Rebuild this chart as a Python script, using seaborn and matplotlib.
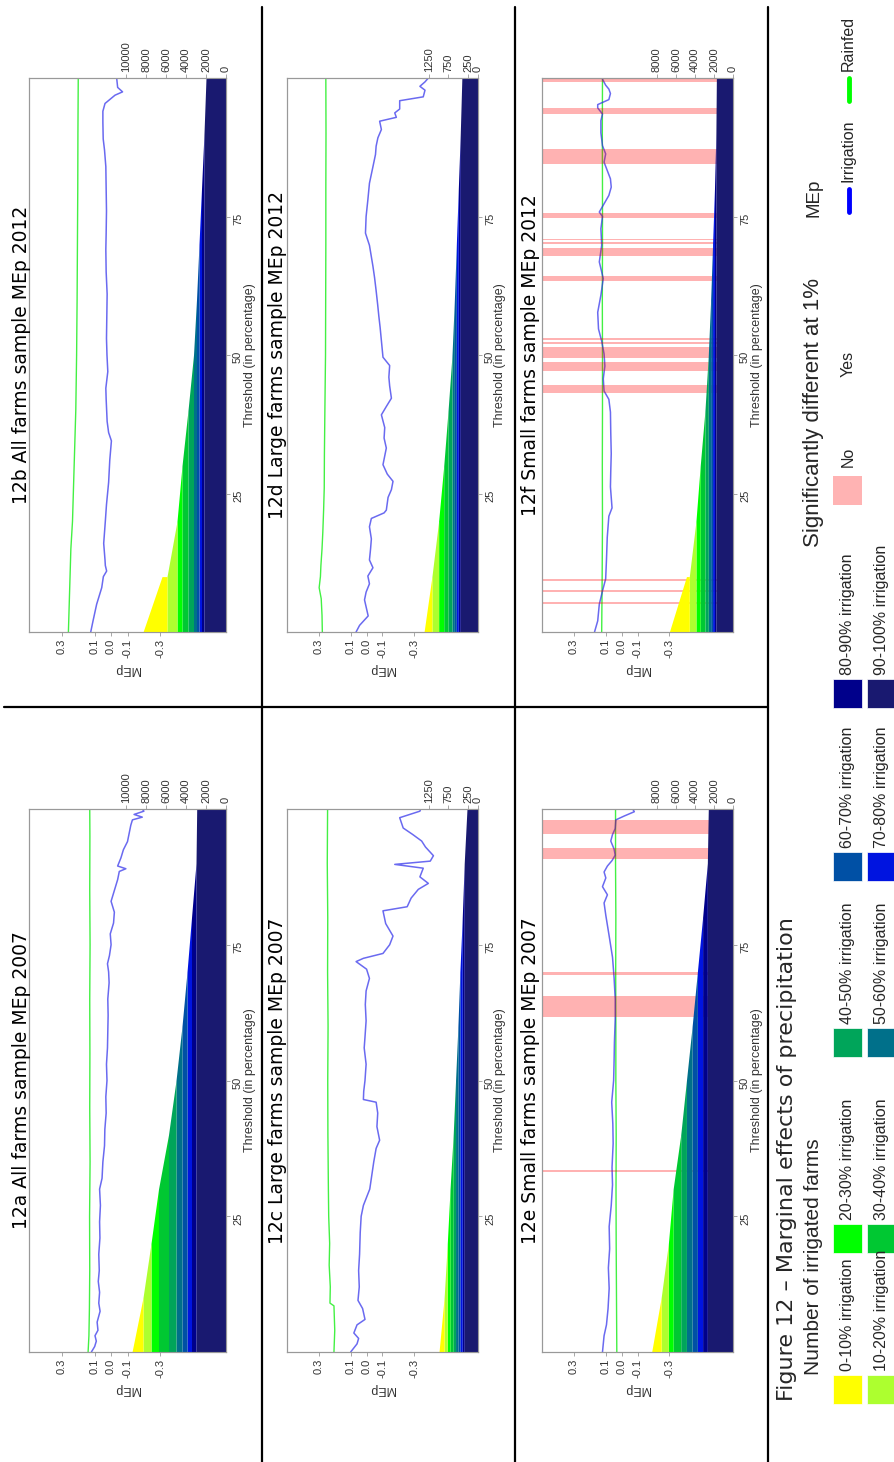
import matplotlib
matplotlib.use("Agg")
import numpy as np
import matplotlib.pyplot as plt
from matplotlib.patches import Rectangle
from matplotlib.lines import Line2D
import seaborn as sns

sns.set_theme(style="white")
plt.rcParams['font.family'] = ['Liberation Sans', 'DejaVu Sans']

W, H = 895, 1462

# irrigation share categories
cat_labels = ['0-10% irrigation', '10-20% irrigation', '20-30% irrigation', '30-40% irrigation',
              '40-50% irrigation', '50-60% irrigation', '60-70% irrigation', '70-80% irrigation',
              '80-90% irrigation', '90-100% irrigation']
cat_colors = ['#ffff00', '#adff2f', '#00ff00', '#00c832', '#00a55a', '#00708a',
              '#0050a5', '#0014e0', '#00008b', '#191970']

mep_ticks = [0.3, 0.1, 0.0, -0.1, -0.3]
mep_labels = ['0.3', '0.1', '0.0', '-0.1', '-0.3']
thr_ticks = [25, 50, 75]
all_ticks = [0, 2000, 4000, 6000, 8000, 10000]
large_ticks = [0, 250, 750, 1250]
small_ticks = [0, 2000, 4000, 6000, 8000]

# 12a all farms 2007
a_thr = [0, 1, 2, 3, 4, 5.5, 7.5, 9, 11, 13, 15, 18, 21, 24, 27, 30, 32, 35, 38, 41,
         44, 47, 50, 53, 56, 59, 62, 65, 68, 70, 71.5, 73, 75, 77, 79, 81, 83, 85, 87, 88.5,
         89, 89.5, 91, 92.5, 94, 95.5, 97, 98, 98.5, 99, 99.6, 100]
a_irr = [0.12, 0.10, 0.09, 0.098, 0.08, 0.085, 0.067, 0.075, 0.07, 0.078, 0.072, 0.075, 0.068, 0.07,
         0.065, 0.07, 0.055, 0.05, 0.04, 0.038, 0.03, 0.032, 0.025, 0.028, 0.022, 0.02, 0.018, 0.02,
         0.012, 0.015, 0.022, 0.01, 0.0, 0.005, -0.015, -0.02, 0.0, -0.02, -0.04, -0.05,
         -0.09, -0.04, -0.06, -0.075, -0.10, -0.11, -0.12, -0.13, -0.19, -0.14, -0.20, -0.19]
a_rain_thr = [0, 3, 8, 15, 25, 35, 45, 55, 65, 75, 85, 95, 100]
a_rain = [0.14, 0.135, 0.132, 0.13, 0.131, 0.128, 0.13, 0.129, 0.13, 0.128, 0.13, 0.129, 0.13]
a_start = [1100, 800, 750, 1000, 750, 600, 500, 450, 450, 3000]
a_end = [0, 0, 0, 0, 0, 0, 0, 0, 0, 2930]
a_ns = []

# 12b all farms 2012
b_thr = [0, 2, 5, 8, 10, 11, 12, 13, 16, 20, 23, 27, 31, 34.5, 36, 38, 42, 44, 47, 50,
         53, 57, 61, 65, 69, 72, 76, 80, 84, 87, 89, 92, 94, 95.4, 96.9, 97.5, 98.3, 100]
b_irr = [0.124, 0.11, 0.088, 0.057, 0.047, 0.027, 0.035, 0.037, 0.045, 0.035, 0.028, 0.015, 0.008,
         -0.002, 0.015, 0.024, 0.03, 0.032, 0.02, 0.025, 0.028, 0.026, 0.024, 0.03, 0.032, 0.03,
         0.028, 0.03, 0.032, 0.04, 0.048, 0.05, 0.05, 0.037, -0.024, -0.07, -0.04, -0.034]
b_rain_thr = [0, 5, 10, 15, 20, 30, 40, 50, 60, 70, 80, 90, 100]
b_rain = [0.26, 0.255, 0.25, 0.245, 0.235, 0.225, 0.215, 0.21, 0.207, 0.205, 0.203, 0.202, 0.2]
b_start = [2400, 1000, 500, 600, 550, 300, 250, 250, 250, 2200]
b_end = [500, 0, 0, 0, 0, 0, 0, 0, 0, 2000]
b_ns = []

# 12c large farms 2007
c_thr = [0, 1.5, 2.5, 3.5, 5, 6, 8, 9.5, 12, 15, 18, 20, 22, 25, 27, 28.5, 30, 32, 35, 37.5,
         39, 41.5, 44, 46, 46.5, 48, 50, 53, 56, 58, 61, 64, 66.5, 68.8, 70.5, 71.9, 72.5, 73.4,
         75, 76.6, 78.9, 81.25, 82, 83.6, 85.2, 86.3, 87.5, 89.1, 89.8, 90.4, 91.4, 93, 94.1,
         95.3, 96.5, 98.4, 99.6, 100]
c_irr = [0.10, 0.06, 0.05, 0.08, 0.06, 0.01, 0.025, 0.054, 0.046, 0.05, 0.044, 0.042, 0.04, 0.034,
         0.02, 0.0, -0.02, -0.03, -0.045, -0.06, -0.082, -0.065, -0.07, -0.06, 0.02, 0.018, 0.01,
         0.003, 0.015, 0.01, 0.003, 0.008, 0.003, -0.018, 0.0, 0.066, 0.02, -0.103, -0.145, -0.166,
         -0.12, -0.103, -0.255, -0.28, -0.325, -0.388, -0.335, -0.356, -0.177, -0.40, -0.42, -0.37,
         -0.346, -0.29, -0.23, -0.208, -0.335, -0.34]
c_rain_thr = [0, 4, 8.5, 9, 12, 16, 20, 25, 30, 40, 50, 60, 70, 80, 90, 100]
c_rain = [0.205, 0.2, 0.205, 0.23, 0.228, 0.235, 0.232, 0.238, 0.24, 0.243, 0.244, 0.242, 0.245,
          0.244, 0.247, 0.245]
c_start = [130, 80, 70, 80, 60, 60, 50, 60, 50, 350]
c_end = [0, 0, 0, 0, 0, 0, 0, 0, 0, 280]
c_ns = []

# 12d large farms 2012
d_thr = [0, 1.2, 2.9, 5.8, 7.2, 8.7, 10.1, 11.6, 13, 15, 16.8, 19, 20.5, 21.5, 22, 24.3, 25.7,
         27.2, 28.5, 30.2, 33.2, 35, 36.9, 39.2, 40.7, 42.2, 44.4, 46, 48.1, 49.6, 52.6, 55, 57,
         59, 61.6, 64, 66, 69.8, 72, 75, 78, 81, 84, 86.2, 87.7, 89.2, 90.7, 92.2, 92.9, 93.7,
         94.4, 95.9, 96.6, 97.8, 98.5, 99.3, 100]
d_irr = [0.066, 0.044, -0.01, 0.013, 0.003, -0.018, -0.008, -0.04, -0.018, -0.025, -0.03, -0.018,
         -0.03, -0.11, -0.124, -0.135, -0.156, -0.166, -0.13, -0.103, -0.124, -0.11, -0.114, -0.093,
         -0.124, -0.156, -0.145, -0.14, -0.145, -0.103, -0.093, -0.085, -0.077, -0.07, -0.06, -0.05,
         -0.04, -0.018, 0.007, 0.003, -0.008, -0.018, -0.04, -0.056, -0.06, -0.071, -0.093, -0.082,
         -0.187, -0.177, -0.208, -0.208, -0.356, -0.367, -0.335, -0.367, -0.388]
d_rain_thr = [0, 3, 6, 8, 10, 12, 15, 18, 22, 26, 32, 40, 50, 60, 70, 80, 90, 100]
d_rain = [0.278, 0.28, 0.285, 0.298, 0.29, 0.287, 0.28, 0.275, 0.27, 0.266, 0.265, 0.262, 0.258,
          0.257, 0.256, 0.256, 0.255, 0.256]
d_start = [200, 170, 130, 110, 100, 60, 50, 50, 50, 450]
d_end = [0, 0, 0, 0, 0, 0, 0, 0, 0, 410]
d_ns = []

# 12e small farms 2007
e_thr = [0, 1.5, 3, 5, 8, 11.7, 15.5, 19, 23.1, 27, 30.8, 34, 38.4, 42, 46, 50, 53.7, 57, 61.3,
         65, 68.9, 72.7, 76.6, 80.4, 82.7, 84.2, 85.7, 87.3, 88.4, 89.5, 90.5, 91.5, 92.6, 94.1,
         95.3, 96.4, 98, 98.7, 99.5, 100]
e_irr = [0.12, 0.115, 0.11, 0.095, 0.085, 0.078, 0.083, 0.075, 0.078, 0.065, 0.057, 0.06, 0.053,
         0.055, 0.062, 0.05, 0.047, 0.045, 0.04, 0.04, 0.047, 0.057, 0.078, 0.099, 0.11, 0.089,
         0.12, 0.099, 0.11, 0.089, 0.06, 0.04, 0.047, 0.068, 0.057, 0.04, 0.036, -0.016, -0.08,
         -0.07]
e_rain_thr = [0, 10, 20, 30, 40, 50, 60, 70, 80, 90, 100]
e_rain = [0.03, 0.032, 0.034, 0.035, 0.034, 0.036, 0.036, 0.037, 0.036, 0.038, 0.038]
e_start = [1000, 760, 500, 800, 600, 600, 550, 550, 500, 2700]
e_end = [0, 0, 0, 0, 0, 0, 0, 0, 0, 2600]
e_ns = [(95.4, 98.0), (90.7, 92.8), (69.4, 69.9), (61.7, 65.5), (33.1, 33.5)]

# 12f small farms 2012
f_thr = [0, 2, 5, 7.4, 9.6, 13, 17.1, 20.9, 22.4, 26.2, 29, 32.2, 36, 39.7, 42, 43.5, 45.7, 48,
         50.2, 52.5, 54.7, 57.7, 60.8, 63.8, 66.8, 69.8, 72.8, 75, 75.8, 77.3, 78.8, 80.3, 81.8,
         83.3, 84.8, 86.3, 87.8, 90.1, 92.3, 93.5, 94.6, 95.2, 96.1, 97.2, 98, 98.7, 99.8]
f_irr = [0.17, 0.15, 0.14, 0.12, 0.10, 0.095, 0.09, 0.08, 0.06, 0.07, 0.068, 0.065, 0.068, 0.07,
         0.08, 0.11, 0.115, 0.105, 0.11, 0.125, 0.145, 0.15, 0.13, 0.115, 0.14, 0.125, 0.13, 0.12,
         0.14, 0.11, 0.08, 0.065, 0.07, 0.09, 0.11, 0.10, 0.12, 0.13, 0.13, 0.12, 0.15, 0.15, 0.08,
         0.07, 0.08, 0.10, 0.12]
f_rain_thr = [0, 10, 20, 30, 40, 50, 60, 70, 80, 90, 100]
f_rain = [0.125, 0.122, 0.12, 0.121, 0.12, 0.12, 0.121, 0.12, 0.12, 0.121, 0.12]
f_start = [2100, 700, 450, 500, 350, 250, 200, 200, 150, 1800]
f_end = [300, 0, 0, 0, 0, 0, 0, 0, 0, 1750]
f_ns = [(99.2, 99.9), (93.5, 94.6), (84.4, 87.1), (74.7, 75.6), (70.1, 70.4), (70.7, 71.0),
        (67.9, 69.4), (63.4, 64.3), (52.0, 52.3), (52.7, 53.0), (49.5, 51.4), (47.2, 48.7),
        (43.1, 44.6), (9.2, 9.5), (7.3, 7.6), (5.1, 5.4)]

panels = [
    dict(title='12a All farms sample MEp 2007', box=(29, 226, 809, 1352), tx=22, lx=250,
         thr=a_thr, irr=a_irr, rthr=a_rain_thr, rain=a_rain, s=a_start, e=a_end, ns=a_ns,
         cmax=19700, cticks=all_ticks),
    dict(title='12b All farms sample MEp 2012', box=(29, 226, 78, 632), tx=22, lx=250,
         thr=b_thr, irr=b_irr, rthr=b_rain_thr, rain=b_rain, s=b_start, e=b_end, ns=b_ns,
         cmax=19700, cticks=all_ticks),
    dict(title='12c Large farms sample MEp 2007', box=(287, 478, 809, 1352), tx=278, lx=500,
         thr=c_thr, irr=c_irr, rthr=c_rain_thr, rain=c_rain, s=c_start, e=c_end, ns=c_ns,
         cmax=4850, cticks=large_ticks),
    dict(title='12d Large farms sample MEp 2012', box=(287, 478, 78, 632), tx=278, lx=500,
         thr=d_thr, irr=d_irr, rthr=d_rain_thr, rain=d_rain, s=d_start, e=d_end, ns=d_ns,
         cmax=4850, cticks=large_ticks),
    dict(title='12e Small farms sample MEp 2007', box=(542, 733, 809, 1352), tx=531, lx=757,
         thr=e_thr, irr=e_irr, rthr=e_rain_thr, rain=e_rain, s=e_start, e=e_end, ns=e_ns,
         cmax=20100, cticks=small_ticks),
    dict(title='12f Small farms sample MEp 2012', box=(542, 733, 78, 632), tx=531, lx=757,
         thr=f_thr, irr=f_irr, rthr=f_rain_thr, rain=f_rain, s=f_start, e=f_end, ns=f_ns,
         cmax=20100, cticks=small_ticks),
]

fig = plt.figure(figsize=(W / 100, H / 100), dpi=100)
fig.patch.set_facecolor('white')


def fx(x):
    return x / W


def fy(y):
    return 1 - y / H


# threshold knots of the stacked area (left/right limit at each 10%)
knots = [(0, 'R')] + [(10 * j, side) for j in range(1, 10) for side in ('L', 'R')] + [(100, 'L')]
knot_t = [k[0] for k in knots]

grey = '#999999'
txt = '#333333'

for p in panels:
    l, r, t, b = p['box']
    ax = fig.add_axes([fx(l), fy(b), (r - l) / W, (b - t) / H])
    sns.lineplot(x=p['rain'], y=p['rthr'], orient='y', estimator=None, color='#22ee22',
                 linewidth=1.0, alpha=0.85, ax=ax, legend=False)
    sns.lineplot(x=p['irr'], y=p['thr'], orient='y', estimator=None, color='#2b2bea',
                 linewidth=1.1, alpha=0.7, ax=ax, legend=False)
    for lo, hi in p['ns']:
        ax.axhspan(lo, hi, color='red', alpha=0.3, lw=0, zorder=3)
    ax.set_xlim(0.5, -0.7)
    ax.set_ylim(0, 100)
    ax.set_xlabel('')
    ax.set_ylabel('')
    ax.set_xticks(mep_ticks)
    ax.set_xticklabels(mep_labels, rotation=90)
    ax.yaxis.tick_right()
    ax.set_yticks(thr_ticks)
    ax.set_yticklabels([str(v) for v in thr_ticks], rotation=90)
    ax.tick_params(axis='x', bottom=True, length=3, width=0.6, color=grey, pad=2,
                   labelsize=8, labelcolor=txt)
    ax.tick_params(axis='y', right=True, left=False, length=3, width=0.6, color=grey, pad=2,
                   labelsize=8, labelcolor=txt)

    # stacked number of irrigated farms on the count axis
    ax2 = ax.twiny()
    ax2.set_xlim(p['cmax'], 0)
    cum = np.zeros(len(knots))
    for k in range(9, -1, -1):
        vals = []
        for tt, side in knots:
            end = 10 * (k + 1)
            if tt <= 10 * k:
                vals.append(p['s'][k])
            elif tt == end and side == 'L':
                vals.append(p['e'][k])
            else:
                vals.append(0)
        vals = np.array(vals, dtype=float)
        ax2.fill_betweenx(knot_t, cum, cum + vals, color=cat_colors[k], lw=0)
        cum = cum + vals
    ax2.set_xticks(p['cticks'])
    ax2.set_xticklabels([str(v) for v in p['cticks']], rotation=90)
    ax2.tick_params(axis='x', top=True, length=3, width=0.6, color=grey, pad=1,
                    labelsize=8, labelcolor=txt)
    for a in (ax, ax2):
        for s in a.spines.values():
            s.set_color(grey)
            s.set_linewidth(0.8)

    mid = (t + b) / 2
    fig.text(fx(p['tx']), fy(mid), p['title'], rotation=90, ha='center', va='center',
             fontsize=13.5, family='DejaVu Sans', color='black')
    fig.text(fx(p['lx']), fy(mid), 'Threshold (in percentage)', rotation=90, ha='center',
             va='center', fontsize=9, color=txt)
    fig.text(fx((l + r) / 2), fy(b + 37), 'MEp', rotation=180, ha='center', va='center',
             fontsize=9, color=txt)

# panel separators
for xv in (262, 515, 768):
    fig.add_artist(Line2D([fx(xv), fx(xv)], [fy(7), fy(H)], color='black', lw=1.6))
fig.add_artist(Line2D([fx(4), fx(768)], [fy(707), fy(707)], color='black', lw=1.6))

# caption and legends
fig.text(fx(787), fy(1401), 'Figure 12 \u2013 Marginal effects of precipitation', rotation=90,
         rotation_mode='anchor', ha='left', va='center', fontsize=16, family='DejaVu Sans')

fig.text(fx(814), fy(1375), 'Number of irrigated farms', rotation=90, rotation_mode='anchor',
         ha='left', va='center', fontsize=15)
row_top = [1375, 1224, 1028, 852, 679]
col_left = [833, 867]
for i, (lab, col) in enumerate(zip(cat_labels, cat_colors)):
    y0 = row_top[i // 2]
    x0 = col_left[i % 2]
    fig.add_artist(Rectangle((fx(x0), fy(y0 + 29)), 29 / W, 29 / H, facecolor=col,
                             edgecolor='white', lw=0.5, transform=fig.transFigure))
    fig.text(fx(x0 + 15), fy(y0 - 4), lab, rotation=90, rotation_mode='anchor',
             ha='left', va='center', fontsize=11.5)

fig.text(fx(814), fy(547), 'Significantly different at 1%', rotation=90, rotation_mode='anchor',
         ha='left', va='center', fontsize=16)
fig.add_artist(Rectangle((fx(833), fy(505)), 29 / W, 29 / H, facecolor='#ffb3b3',
                         edgecolor='none', transform=fig.transFigure))
fig.text(fx(848), fy(467), 'No', rotation=90, rotation_mode='anchor', ha='left', va='center',
         fontsize=11.5)
fig.text(fx(848), fy(377), 'Yes', rotation=90, rotation_mode='anchor', ha='left', va='center',
         fontsize=11.5)

fig.text(fx(814), fy(217), 'MEp', rotation=90, rotation_mode='anchor', ha='left', va='center',
         fontsize=13.5)
fig.add_artist(Line2D([fx(849), fx(849)], [fy(212), fy(189)], color='#0000ff', lw=3.5))
fig.text(fx(848), fy(182), 'Irrigation', rotation=90, rotation_mode='anchor', ha='left',
         va='center', fontsize=11.5)
fig.add_artist(Line2D([fx(849), fx(849)], [fy(101), fy(78)], color='#00ff00', lw=3.5))
fig.text(fx(848), fy(71), 'Rainfed', rotation=90, rotation_mode='anchor', ha='left',
         va='center', fontsize=11.5)

fig.savefig('out.png', dpi=100, facecolor='white')
